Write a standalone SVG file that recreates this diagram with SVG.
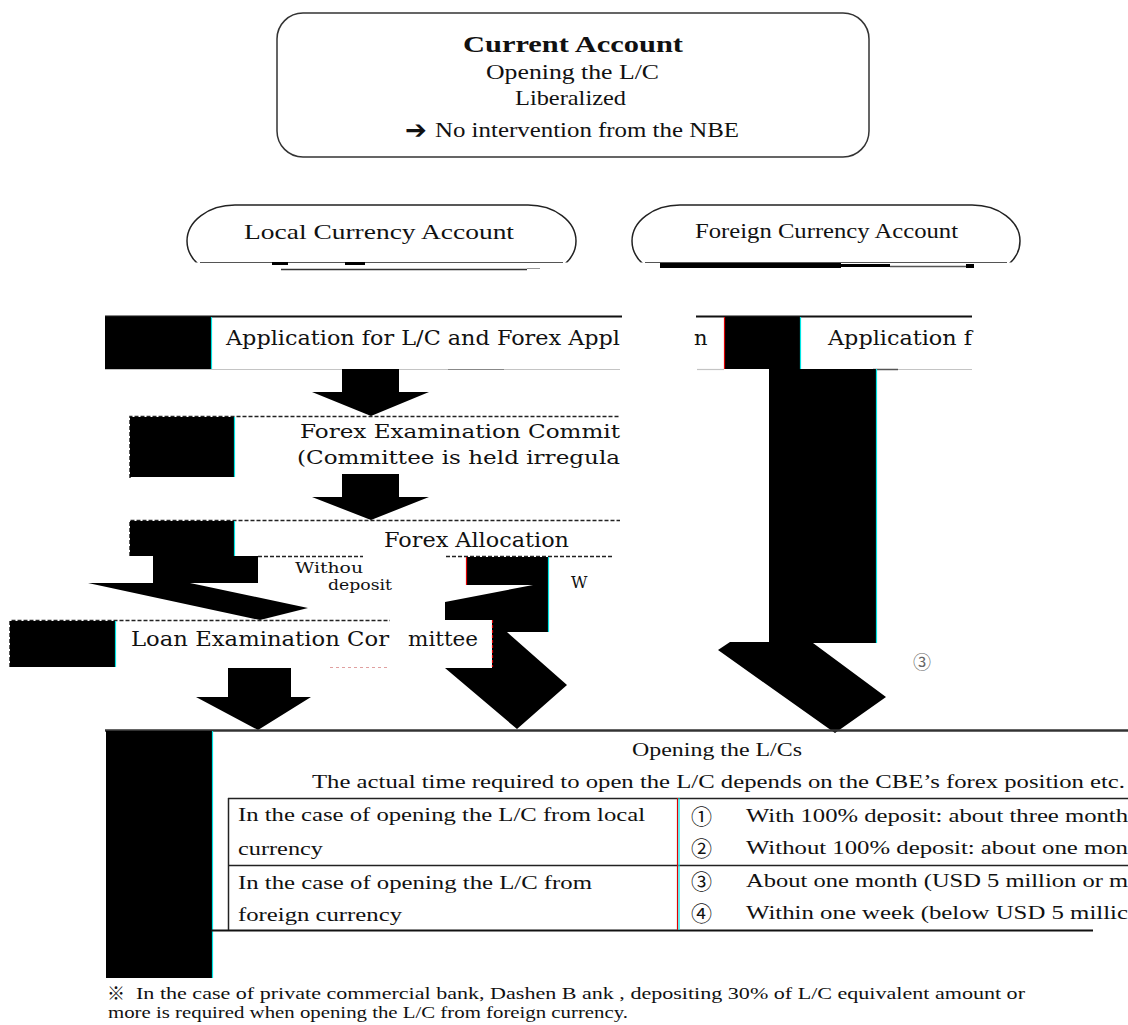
<svg xmlns="http://www.w3.org/2000/svg" width="1128" height="1025" viewBox="0 0 1128 1025">
  <style>
    .tm { font-family: "Liberation Serif", "Times New Roman", serif; fill: #111; }
    .bk { font-family: "DejaVu Serif", "Liberation Serif", serif; fill: #111; }
    .sym { font-family: "DejaVu Sans", "Noto Sans CJK JP", sans-serif; fill: #111; }
    .cjk { font-family: "Noto Sans CJK JP", "DejaVu Sans", sans-serif; fill: #111; }
    .blk { fill: #000; }
    .edge { stroke: #00e5e5; stroke-width: 1.2; }
    .redge { stroke: #e00000; stroke-width: 1.2; }
    .solid { stroke: #111; stroke-width: 2; fill: none; }
    .thin { stroke: #c4c4c4; stroke-width: 1.2; fill: none; }
    .dash { stroke: #222; stroke-width: 1.5; stroke-dasharray: 4 2; fill: none; }
    .grid { stroke: #222; stroke-width: 1.5; fill: none; }
    .oval { fill: #fff; stroke: #222; stroke-width: 1.5; }
  </style>
  <defs>
    <clipPath id="oval-cut">
      <rect x="0" y="190" width="1128" height="72.5"/>
    </clipPath>
  </defs>
  <rect width="1128" height="1025" fill="#fff"/>

  <!-- top summary box -->
  <g id="current-account">
    <rect x="277" y="13" width="592" height="144" rx="26" ry="26" fill="#fff" stroke="#333" stroke-width="1.5"/>
    <text class="tm" x="463" y="52" font-size="24" font-weight="bold" textLength="220" lengthAdjust="spacingAndGlyphs">Current Account</text>
    <text class="tm" x="486" y="79" font-size="22" textLength="173" lengthAdjust="spacingAndGlyphs">Opening the L/C</text>
    <text class="tm" x="515" y="105" font-size="22" textLength="111" lengthAdjust="spacingAndGlyphs">Liberalized</text>
    <text class="sym" x="405" y="139" font-size="26" font-weight="bold">➔</text>
    <text class="tm" x="435" y="137" font-size="22" textLength="304" lengthAdjust="spacingAndGlyphs">No intervention from the NBE</text>
  </g>

  <!-- account type ovals -->
  <g id="local-account">
    <rect x="187" y="205" width="389" height="72" rx="48" ry="36" class="oval" clip-path="url(#oval-cut)"/>
    <line x1="200" y1="262.5" x2="563" y2="262.5" stroke="#555" stroke-width="1"/>
    <text class="tm" x="244" y="239" font-size="21" textLength="270" lengthAdjust="spacingAndGlyphs">Local Currency Account</text>
  </g>
  <g id="foreign-account">
    <rect x="632" y="205" width="388" height="72" rx="48" ry="36" class="oval" clip-path="url(#oval-cut)"/>
    <line x1="645" y1="262.5" x2="1007" y2="262.5" stroke="#555" stroke-width="1"/>
    <text class="tm" x="695" y="238" font-size="20" textLength="263" lengthAdjust="spacingAndGlyphs">Foreign Currency Account</text>
  </g>

  <!-- application boxes -->
  <g id="application-local">
    <line x1="105" y1="316.5" x2="622" y2="316.5" class="solid"/>
    <line x1="105" y1="369.5" x2="620" y2="369.5" class="thin"/>
    <line x1="448" y1="369.5" x2="504" y2="369.5" stroke="#888" stroke-width="1.2"/>
    <rect x="105" y="317" width="106" height="52" class="blk"/>
    <line x1="211.5" y1="317" x2="211.5" y2="369" class="edge"/>
    <text class="bk" x="226" y="345" font-size="21" textLength="394" lengthAdjust="spacingAndGlyphs">Application for L/C and Forex Appl</text>
    <text class="bk" x="694" y="345" font-size="21">n</text>
  </g>
  <g id="application-foreign">
    <line x1="696" y1="316.5" x2="972" y2="316.5" class="solid"/>
    <line x1="697" y1="369.5" x2="724" y2="369.5" class="thin"/>
    <line x1="873" y1="369.5" x2="898" y2="369.5" stroke="#555" stroke-width="1.5"/>
    <line x1="898" y1="369.5" x2="972" y2="369.5" class="thin"/>
    <rect x="725" y="317" width="75" height="52" class="blk"/>
    <line x1="724.5" y1="317" x2="724.5" y2="369" class="redge"/>
    <line x1="800.5" y1="317" x2="800.5" y2="369" class="edge"/>
    <text class="bk" x="828" y="345" font-size="21" textLength="144" lengthAdjust="spacingAndGlyphs">Application f</text>
  </g>

  <g id="forex-examination">
    <path d="M 130 478 L 130 416.5 L 620 416.5" class="dash"/>
    <rect x="130" y="417" width="104" height="60" class="blk"/>
    <line x1="234.5" y1="417" x2="234.5" y2="477" class="edge"/>
    <text class="bk" x="300" y="438" font-size="19" textLength="320" lengthAdjust="spacingAndGlyphs">Forex Examination Commit</text>
    <text class="bk" x="297" y="464" font-size="19" textLength="323" lengthAdjust="spacingAndGlyphs">(Committee is held irregula</text>
  </g>

  <g id="forex-allocation">
    <path d="M 130 556 L 130 520.5 L 620 520.5" class="dash"/>
    <path d="M 258 556.5 L 363 556.5 M 446 556.5 L 614 556.5" class="dash"/>
    <rect x="130" y="521" width="104" height="35" class="blk"/>
    <line x1="234.5" y1="521" x2="234.5" y2="556" class="edge"/>
    <text class="bk" x="384" y="547" font-size="20" textLength="185" lengthAdjust="spacingAndGlyphs">Forex Allocation</text>
    <text class="bk" x="295" y="573" font-size="14" textLength="68" lengthAdjust="spacingAndGlyphs">Withou</text>
    <text class="bk" x="328" y="590" font-size="14" textLength="64" lengthAdjust="spacingAndGlyphs">deposit</text>
    <text class="bk" x="571" y="588" font-size="16">W</text>
  </g>

  <!-- flow arrows -->
  <g id="connectors">
    <!-- remnants below the ovals -->
    <line x1="281" y1="269.5" x2="527" y2="269.5" stroke="#333" stroke-width="1.5"/>
    <line x1="527" y1="268.5" x2="540" y2="268.5" stroke="#999" stroke-width="1"/>
    <rect x="272" y="262" width="16" height="3" class="blk"/>
    <rect x="345" y="262" width="20" height="3" class="blk"/>
    <rect x="660" y="263" width="181" height="5" class="blk"/>
    <rect x="841" y="264" width="49" height="3" class="blk"/>
    <line x1="890" y1="266.5" x2="966" y2="266.5" stroke="#555" stroke-width="1.5"/>
    <rect x="966" y="264" width="8" height="4" class="blk"/>

    <polygon class="blk" points="342,369 399,369 399,392 429,392 371,416 312,392 342,392"/>
    <polygon class="blk" points="342,474 399,474 399,497 429,497 371,520 312,497 342,497"/>

    <!-- without deposit -->
    <polygon class="blk" points="153,556 258,556 258,583 153,583"/>
    <polygon class="blk" points="88,583 190,583 308,608 260,620"/>

    <!-- with deposit -->
    <polygon class="blk" points="467,557 548,557 548,632 507,632 567,685 517,729 445,668 492,668 492,620 445,620 445,602 533,585 467,585"/>
    <line x1="466.5" y1="557" x2="466.5" y2="585" class="redge"/>
    <line x1="548.5" y1="557" x2="548.5" y2="632" class="edge"/>

    <!-- foreign currency path -->
    <polygon class="blk" points="769,369 876,369 876,643 813,643 886,697 835,733 718,650 730,642 769,642"/>
    <line x1="876.5" y1="369" x2="876.5" y2="643" class="edge"/>

    <!-- loan examination to opening -->
    <polygon class="blk" points="228,668 291,668 291,697 311,697 258,730 196,697 228,697"/>
  </g>

  <g id="loan-examination">
    <path d="M 10 667 L 10 620.5 L 390 620.5" class="dash"/>
    <path d="M 330 667.5 L 390 667.5" stroke="#e0a0a0" stroke-width="1" stroke-dasharray="3 3"/>
    <line x1="492.5" y1="620" x2="492.5" y2="667" class="redge" stroke-dasharray="3 2"/>
    <rect x="10" y="621" width="105" height="46" class="blk"/>
    <line x1="115.5" y1="621" x2="115.5" y2="667" class="edge"/>
    <text class="bk" x="131" y="646" font-size="20" textLength="258" lengthAdjust="spacingAndGlyphs">Loan Examination Cor</text>
    <text class="bk" x="408" y="646" font-size="20" textLength="70" lengthAdjust="spacingAndGlyphs">mittee</text>
    <text class="cjk" x="913" y="669" font-size="18" style="fill:#666">③</text>
  </g>

  <!-- opening the L/Cs -->
  <g id="opening-lcs">
    <line x1="105" y1="730.5" x2="1128" y2="730.5" stroke="#333" stroke-width="2.5"/>
    <rect x="106" y="731" width="106" height="247" class="blk"/>
    <line x1="212.5" y1="731" x2="212.5" y2="978" class="edge"/>
    <text class="tm" x="632" y="756" font-size="19" textLength="170" lengthAdjust="spacingAndGlyphs">Opening the L/Cs</text>
    <text class="tm" x="312" y="788" font-size="19" textLength="813" lengthAdjust="spacingAndGlyphs">The actual time required to open the L/C depends on the CBE’s forex position etc.</text>
    <path d="M 228 798.5 L 1128 798.5 M 228 865.5 L 1128 865.5" class="grid"/>
    <line x1="212" y1="930.5" x2="1093" y2="930.5" stroke="#111" stroke-width="2"/>
    <line x1="228.5" y1="798" x2="228.5" y2="930" class="grid"/>
    <line x1="677.5" y1="798" x2="677.5" y2="930" class="redge"/>
    <line x1="679" y1="798" x2="679" y2="930" class="edge"/>
    <text class="tm" x="238" y="821" font-size="19" textLength="407" lengthAdjust="spacingAndGlyphs">In the case of opening the L/C from local</text>
    <text class="tm" x="238" y="855" font-size="19" textLength="85" lengthAdjust="spacingAndGlyphs">currency</text>
    <text class="tm" x="238" y="889" font-size="19" textLength="354" lengthAdjust="spacingAndGlyphs">In the case of opening the L/C from</text>
    <text class="tm" x="238" y="921" font-size="19" textLength="164" lengthAdjust="spacingAndGlyphs">foreign currency</text>
    <text class="cjk" x="691" y="824" font-size="21">①</text>
    <text class="cjk" x="691" y="856" font-size="21">②</text>
    <text class="cjk" x="691" y="889" font-size="21">③</text>
    <text class="cjk" x="691" y="921" font-size="21">④</text>
    <text class="tm" x="746" y="822" font-size="19" textLength="382" lengthAdjust="spacingAndGlyphs">With 100% deposit: about three month</text>
    <text class="tm" x="746" y="854" font-size="19" textLength="382" lengthAdjust="spacingAndGlyphs">Without 100% deposit: about one mon</text>
    <text class="tm" x="746" y="887" font-size="19" textLength="382" lengthAdjust="spacingAndGlyphs">About one month (USD 5 million or m</text>
    <text class="tm" x="746" y="919" font-size="19" textLength="382" lengthAdjust="spacingAndGlyphs">Within one week (below USD 5 millic</text>
  </g>

  <!-- footnote -->
  <g id="footnote">
    <text class="cjk" x="107" y="1000" font-size="18">※</text>
    <text class="tm" x="136" y="999" font-size="16" textLength="889" lengthAdjust="spacingAndGlyphs">In the case of private commercial bank, Dashen B ank , depositing 30% of L/C equivalent amount or</text>
    <text class="tm" x="108" y="1018" font-size="16" textLength="520" lengthAdjust="spacingAndGlyphs">more is required when opening the L/C from foreign currency.</text>
  </g>
</svg>
